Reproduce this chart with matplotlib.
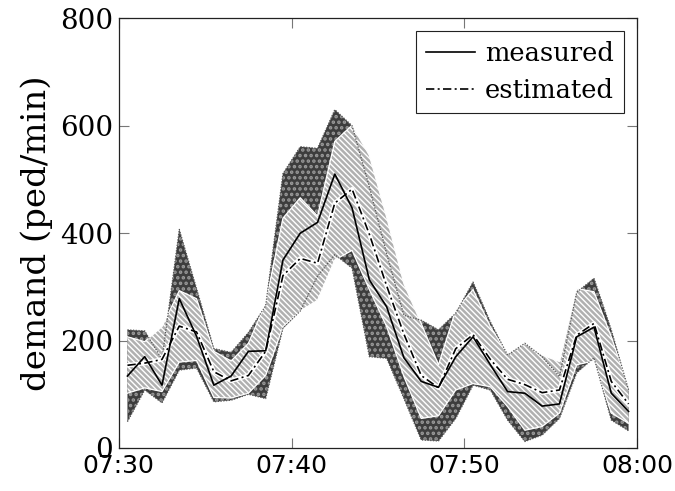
import matplotlib
matplotlib.use("Agg")
import matplotlib.pyplot as plt
import numpy as np

# one value per minute, centred on the half minute
minutes = np.arange(30) + 0.5

measured = [134, 170, 117, 278, 208, 117, 134, 180, 181, 350, 400, 420, 510, 447, 313,
            263, 168, 124, 113, 170, 207, 155, 105, 102, 78, 82, 207, 225, 102, 68]
estimated = [154, 158, 165, 227, 216, 142, 125, 135, 180, 321, 353, 344, 456, 482, 398,
             302, 212, 135, 112, 185, 211, 165, 128, 118, 103, 108, 210, 232, 124, 82]

# spread of the measured demand
meas_hi = [220, 218, 165, 407, 297, 185, 178, 215, 265, 511, 561, 558, 630, 600, 486,
           362, 247, 238, 220, 251, 309, 235, 173, 195, 170, 133, 290, 316, 220, 108]
meas_lo = [49, 108, 84, 145, 149, 86, 89, 100, 92, 223, 255, 320, 360, 335, 170,
           167, 92, 15, 13, 55, 117, 108, 52, 12, 24, 55, 140, 168, 52, 32]

# spread of the estimated demand
est_hi = [207, 198, 226, 293, 278, 180, 162, 195, 270, 428, 466, 432, 571, 601, 545,
          430, 306, 232, 155, 257, 295, 226, 175, 195, 173, 161, 297, 291, 207, 114]
est_lo = [102, 112, 105, 160, 163, 94, 93, 102, 135, 226, 255, 275, 350, 368, 295,
          226, 133, 55, 60, 108, 120, 114, 77, 33, 40, 65, 155, 162, 65, 46]

tick_pos = [0, 10, 20, 30]
tick_labels = ["07:30", "07:40", "07:50", "08:00"]
yticks = [0, 200, 400, 600, 800]

fig = plt.figure(figsize=(6.75, 4.91), dpi=100)
ax = fig.add_axes([0.176, 0.0876, 0.768, 0.875])

# measured band: dark with light dots
plt.rcParams["hatch.linewidth"] = 1.7
ax.fill_between(minutes, meas_lo, meas_hi, facecolor="#3d3d3d", edgecolor="#9a9a9a",
                hatch="...", linewidth=0, zorder=1)
# estimated band: light grey with white stripes
plt.rcParams["hatch.linewidth"] = 1.0
ax.fill_between(minutes, est_lo, est_hi, facecolor="#b0b0b0", edgecolor="white",
                hatch="\\" * 6, linewidth=0, zorder=2)
ax.plot(minutes, est_hi, color="white", lw=0.9, zorder=3)
ax.plot(minutes, est_lo, color="white", lw=0.9, zorder=3)
# dotted outline of measured band on top
ax.plot(minutes, meas_hi, color="#555555", lw=0.9, ls=(0, (1, 1.2)), zorder=4)
ax.plot(minutes, meas_lo, color="#555555", lw=0.9, ls=(0, (1, 1.2)), zorder=4)

ax.plot(minutes, estimated, color="white", lw=3.2, zorder=5)
ax.plot(minutes, measured, color="black", lw=1.2, zorder=6, label="measured")
ax.plot(minutes, estimated, color="black", lw=1.2, dashes=(5, 2, 1.2, 2), zorder=6,
        label="estimated")

ax.set_xlim(0, 30)
ax.set_ylim(0, 800)
ax.set_xticks(tick_pos)
ax.set_xticklabels(tick_labels, family="DejaVu Sans", fontsize=18)
ax.set_yticks(yticks)
ax.set_yticklabels([str(v) for v in yticks], family="DejaVu Serif", fontsize=20)
ax.tick_params(direction="in", length=7, width=0.8, color="#777777",
               top=True, right=True, pad=4)
ax.set_ylabel("demand (ped/min)", family="DejaVu Serif", fontsize=24.5, labelpad=5)
for s in ax.spines.values():
    s.set_linewidth(0.9)
    s.set_color("#222222")

leg = ax.legend(loc="upper right", prop={"family": "DejaVu Serif", "size": 18.5},
                fancybox=False, framealpha=1, edgecolor="#222222", handlelength=1.9,
                handletextpad=0.4, borderpad=0.4, labelspacing=0.45, borderaxespad=0.5)
leg.get_frame().set_linewidth(0.8)

fig.savefig("out.png", dpi=100)
